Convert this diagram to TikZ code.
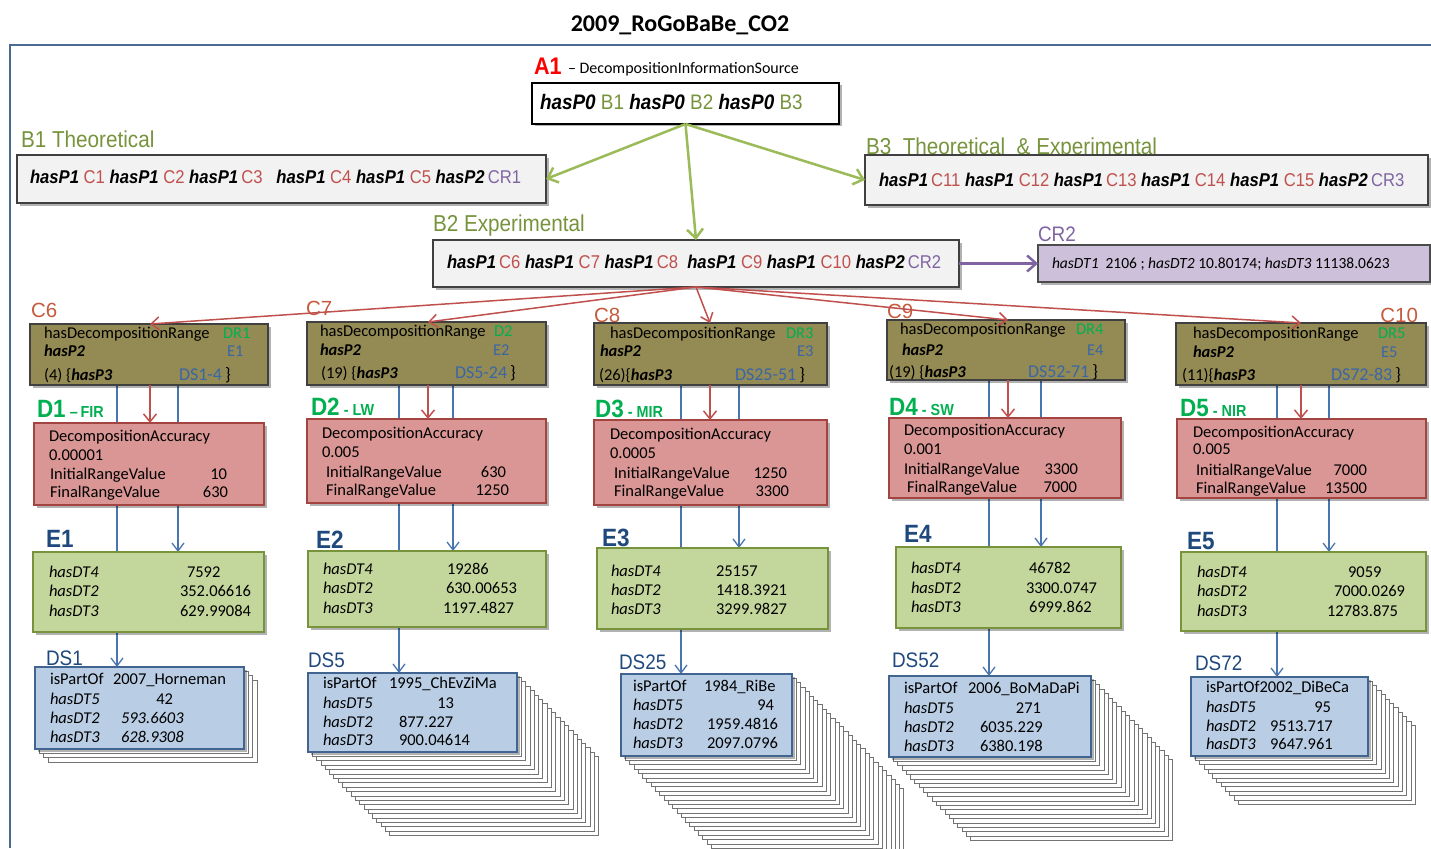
\documentclass[tikz,border=0pt]{standalone}
\usepackage{fontspec}
\setmainfont{Carlito}
\newfontfamily\nar[FakeStretch=0.9]{Liberation Sans}
\newfontfamily\arl{Liberation Sans}
\usetikzlibrary{arrows.meta,shadows,calc}
\pgfdeclarelayer{bg}
\pgfsetlayers{bg,main}

\definecolor{olv}{HTML}{77933C}
\definecolor{cred}{HTML}{C0504D}
\definecolor{clab}{HTML}{C65A3C}
\definecolor{cpur}{HTML}{8064A2}
\definecolor{garrow}{HTML}{9BBB59}
\definecolor{framec}{HTML}{4A6A94}
\definecolor{dgreen}{HTML}{00B050}
\definecolor{eblue}{HTML}{3A66A6}
\definecolor{lblue}{HTML}{1F497D}
\definecolor{bline}{HTML}{4A76B0}
\definecolor{cfill}{HTML}{948A54}
\definecolor{dfill}{HTML}{D99694}
\definecolor{efill}{HTML}{C3D69B}
\definecolor{sfill}{HTML}{B9CDE5}
\definecolor{crfill}{HTML}{CCC0DA}

\newcommand\fs[1]{\fontsize{#1}{#1}\selectfont}
\newcommand\hp[1]{\textbf{\textit{#1}}}
\newcommand\cc[1]{\textcolor{cred}{#1}}
\newcommand\cp[1]{\textcolor{cpur}{#1}}
\newcommand\cb[1]{\textcolor{olv}{#1}}
% text placed on its baseline, left or right aligned
\newcommand\T[5][body]{\node[#1] (#2) at (#3,#4) {#5};}
\newcommand\R[5][bodyr]{\node[#1] (#2) at (#3,#4) {#5};}
% a pile of sheets behind a data-set box
\newcommand\stack[5]{\foreach \i in {#5,...,1}{\draw[stk] ({#1+4.3*\i},{#2+4.4*\i}) rectangle ++(#3,#4);}}

\tikzset{
  tx/.style={inner sep=0pt, outer sep=0pt, anchor=base west},
  txr/.style={inner sep=0pt, outer sep=0pt, anchor=base east},
  body/.style={tx, font=\fs{16.5}},
  bodyr/.style={txr, font=\fs{16.5}},
  shd/.style={drop shadow={shadow xshift=2.5pt, shadow yshift=-2.5pt, opacity=0.3, fill=black}},
  box/.style={rectangle, inner sep=0pt, outer sep=0pt, anchor=north west, line width=1.3pt, shd},
  whitebox/.style={box, fill=white, draw=black},
  graybox/.style={box, fill=black!5, draw=black!75},
  crbox/.style={box, fill=crfill, draw=black!70},
  cbox/.style={box, fill=cfill, draw=black!75},
  dbox/.style={box, fill=dfill, draw=cred!85!black},
  ebox/.style={box, fill=efill, draw=olv},
  sbox/.style={box, fill=sfill, draw=lblue!85},
  stk/.style={fill=white, draw=black!55, line width=0.8pt},
  frame/.style={draw=framec, line width=2pt},
  garr/.style={draw=garrow, line width=2.5pt, -{Straight Barb[length=9pt,width=16pt]}},
  parr/.style={draw=cpur, line width=2.5pt, -{Straight Barb[length=9pt,width=16pt]}},
  rarr/.style={draw=cred, line width=1.5pt, -{Straight Barb[length=8pt,width=13pt]}},
  bln/.style={draw=bline, line width=1.3pt},
  barr/.style={bln, -{Straight Barb[length=8pt,width=12pt]}},
  blab/.style={tx, font=\nar\fs{23}, text=olv},
  clabel/.style={tx, font=\arl\fs{20.5}, text=clab},
  dlabel/.style={tx, font=\nar\bfseries\fs{25}, text=dgreen},
  elabel/.style={tx, font=\nar\bfseries\fs{25}, text=lblue},
  slabel/.style={tx, font=\nar\fs{21}, text=lblue},
  btext/.style={tx, font=\nar\fs{18.5}},
}

\begin{document}
\begin{tikzpicture}[x=1pt, y=-1pt]
\clip (0,0) rectangle (1431,848);
\begin{pgfonlayer}{bg}
\fill[white] (0,0) rectangle (1431,848);
\end{pgfonlayer}

% title and frame
\node[tx, anchor=base, font=\bfseries\fs{24}] (title) at (680,32) {2009\_RoGoBaBe\_CO2};
\draw[frame] (10,848) -- (10,45) -- (1431,45);

% top level source
\node[tx, font=\nar\bfseries\fs{24}, text=red] (a1lab) at (534,75) {A1};
\T[body, font=\fs{16}]{a1src}{568}{74}{– DecompositionInformationSource}
\node[whitebox, minimum width=307, minimum height=41] (a1) at (532,83) {};
\node[tx, font=\nar\fs{21}] (a1txt) at (540,110) {\hp{hasP0} \cb{B1} \hp{hasP0} \cb{B2} \hp{hasP0} \cb{B3}};

% B level
\node[blab] (b1lab) at (21,147) {B1 Theoretical};
\node[graybox, minimum width=529, minimum height=48] (b1) at (17,155) {};
\node[btext] (b1txt) at (30,183) {\hp{hasP1} \cc{C1} \hp{hasP1} \cc{C2} \hp{hasP1}\,\cc{C3}\ \ \ \hp{hasP1} \cc{C4} \hp{hasP1} \cc{C5} \hp{hasP2}\,\cp{CR1}};

\node[blab] (b3lab) at (866,154) {B3\ \ Theoretical\ \ \& Experimental};
\node[graybox, minimum width=563, minimum height=50] (b3) at (865,155) {};
\node[btext] (b3txt) at (879,186) {\hp{hasP1}\,\cc{C11} \hp{hasP1} \cc{C12} \hp{hasP1}\,\cc{C13} \hp{hasP1} \cc{C14} \hp{hasP1} \cc{C15} \hp{hasP2}\,\cp{CR3}};

\node[blab] (b2lab) at (433,231) {B2 Experimental};
\node[graybox, minimum width=526, minimum height=47] (b2) at (433,240) {};
\node[btext] (b2txt) at (447,268) {\hp{hasP1}\,\cc{C6} \hp{hasP1} \cc{C7} \hp{hasP1}\,\cc{C8}\ \ \hp{hasP1} \cc{C9} \hp{hasP1} \cc{C10} \hp{hasP2}\,\cp{CR2}};

\node[tx, font=\nar\fs{21}, text=cpur] (cr2lab) at (1038,241) {CR2};
\node[crbox, minimum width=392, minimum height=37] (cr2) at (1038,245) {};
\T[body, font=\fs{15.5}]{cr2txt}{1052}{268}{\textit{hasDT1}\ \ 2106 ; \textit{hasDT2} 10.80174; \textit{hasDT3} 11138.0623}

\draw[garr] (a1.south) -- (b1.east);
\draw[garr] (a1.south) -- (b3.west);
\draw[garr] (a1.south) -- (b2.north);
\draw[parr] (b2.east) -- (cr2.west);

% columns of the five decomposition ranges
\coordinate (r6) at (150,0);  \coordinate (l6) at (117,0);  \coordinate (e6) at (178,0);
\coordinate (r7) at (428,0);  \coordinate (l7) at (399,0);  \coordinate (e7) at (453,0);
\coordinate (r8) at (710,0);  \coordinate (l8) at (681,0);  \coordinate (e8) at (739,0);
\coordinate (r9) at (1008,0); \coordinate (l9) at (989,0);  \coordinate (e9) at (1041,0);
\coordinate (r10) at (1301,0);\coordinate (l10) at (1277,0);\coordinate (e10) at (1329,0);

% C boxes
\node[clabel] (c6lab) at (31,317) {C6};
\node[cbox, minimum width=238, minimum height=61] (c6) at (30,324) {};
\T{c6a}{44}{338}{hasDecompositionRange} \T[body,text=dgreen]{c6b}{223}{338}{DR1}
\T{c6c}{44}{356}{\hp{hasP2}} \T[body,text=eblue]{c6d}{227}{356}{E1}
\T{c6e}{44}{380}{(4) \{\hp{hasP3}} \T[body,text=eblue,font=\fs{18}]{c6f}{179}{380}{DS1-4\,\textcolor{black}{\}}}

\node[clabel] (c7lab) at (306,315) {C7};
\node[cbox, minimum width=239, minimum height=63] (c7) at (307,322) {};
\T{c7a}{320}{336}{hasDecompositionRange} \T[body,text=dgreen]{c7b}{494}{336}{D2}
\T{c7c}{320}{355}{\hp{hasP2}} \T[body,text=eblue]{c7d}{493}{355}{E2}
\T{c7e}{321}{378}{(19) \{\hp{hasP3}} \T[body,text=eblue,font=\fs{18}]{c7f}{455}{378}{DS5-24\,\textcolor{black}{\}}}

\node[clabel] (c8lab) at (594,322) {C8};
\node[cbox, minimum width=233, minimum height=62] (c8) at (594,323) {};
\T{c8a}{610}{338}{hasDecompositionRange} \T[body,text=dgreen]{c8b}{786}{338}{DR3}
\T{c8c}{600}{356}{\hp{hasP2}} \T[body,text=eblue]{c8d}{797}{356}{E3}
\T{c8e}{599}{380}{(26)\{\hp{hasP3}} \T[body,text=eblue,font=\fs{18}]{c8f}{735}{380}{DS25-51\,\textcolor{black}{\}}}

\node[clabel] (c9lab) at (887,318) {C9};
\node[cbox, minimum width=238, minimum height=60] (c9) at (887,320) {};
\T{c9a}{900}{334}{hasDecompositionRange} \T[body,text=dgreen]{c9b}{1076}{334}{DR4}
\T{c9c}{902}{355}{\hp{hasP2}} \T[body,text=eblue]{c9d}{1087}{355}{E4}
\T{c9e}{889}{377}{(19) \{\hp{hasP3}} \T[body,text=eblue,font=\fs{18}]{c9f}{1028}{377}{DS52-71\,\textcolor{black}{\}}}

\node[clabel, anchor=base east] (c10lab) at (1418,322) {C10};
\node[cbox, minimum width=250, minimum height=62] (c10) at (1176,323) {};
\T{c10a}{1193}{338}{hasDecompositionRange} \T[body,text=dgreen]{c10b}{1378}{338}{DR5}
\T{c10c}{1193}{357}{\hp{hasP2}} \T[body,text=eblue]{c10d}{1381}{357}{E5}
\T{c10e}{1182}{380}{(11)\{\hp{hasP3}} \T[body,text=eblue,font=\fs{18}]{c10f}{1331}{380}{DS72-83\,\textcolor{black}{\}}}

\foreach \c in {6,...,10}{\draw[rarr] (b2.south) -- (c\c.north -| r\c);}

% D boxes
\node[dlabel] (d1lab) at (37,417) {D1\,{\fs{16}–\,FIR}};
\node[dbox, minimum width=230, minimum height=82] (d1) at (34,423) {};
\T{d1a}{49}{441}{DecompositionAccuracy} \T{d1b}{49}{460}{0.00001}
\T{d1c}{50}{479}{InitialRangeValue} \R{d1d}{227}{479}{10}
\T{d1e}{50}{497}{FinalRangeValue} \R{d1f}{228}{497}{630}

\node[dlabel] (d2lab) at (311,415) {D2\,{\fs{16}- LW}};
\node[dbox, minimum width=239, minimum height=84] (d2) at (307,419) {};
\T{d2a}{322}{438}{DecompositionAccuracy} \T{d2b}{322}{457}{0.005}
\T{d2c}{326}{477}{InitialRangeValue} \R{d2d}{506}{477}{630}
\T{d2e}{326}{495}{FinalRangeValue} \R{d2f}{509}{495}{1250}

\node[dlabel] (d3lab) at (595,417) {D3\,{\fs{16}- MIR}};
\node[dbox, minimum width=233, minimum height=85] (d3) at (594,420) {};
\T{d3a}{610}{439}{DecompositionAccuracy} \T{d3b}{610}{458}{0.0005}
\T{d3c}{614}{478}{InitialRangeValue} \R{d3d}{787}{478}{1250}
\T{d3e}{614}{496}{FinalRangeValue} \R{d3f}{789}{496}{3300}

\node[dlabel] (d4lab) at (889,415) {D4\,{\fs{16}- SW}};
\node[dbox, minimum width=232, minimum height=80] (d4) at (889,418) {};
\T{d4a}{904}{435}{DecompositionAccuracy} \T{d4b}{904}{454}{0.001}
\T{d4c}{904}{474}{InitialRangeValue} \R{d4d}{1078}{474}{3300}
\T{d4e}{907}{492}{FinalRangeValue} \R{d4f}{1077}{492}{7000}

\node[dlabel] (d5lab) at (1180,416) {D5\,{\fs{16}- NIR}};
\node[dbox, minimum width=249, minimum height=79] (d5) at (1177,419) {};
\T{d5a}{1193}{437}{DecompositionAccuracy} \T{d5b}{1193}{454}{0.005}
\T{d5c}{1196}{475}{InitialRangeValue} \R{d5d}{1367}{475}{7000}
\T{d5e}{1196}{493}{FinalRangeValue} \R{d5f}{1367}{493}{13500}

\foreach \c/\d in {6/1,7/2,8/3,9/4,10/5}{\draw[rarr] (c\c.south -| r\c) -- (d\d.north -| r\c);}

% E boxes
\node[elabel] (e1lab) at (46,547) {E1};
\node[ebox, minimum width=231, minimum height=80] (e1) at (33,552) {};
\T{e1a}{49}{577}{\textit{hasDT4}} \T{e1b}{187}{577}{7592}
\T{e1c}{49}{596}{\textit{hasDT2}} \T{e1d}{180}{596}{352.06616}
\T{e1e}{49}{616}{\textit{hasDT3}} \T{e1f}{180}{616}{629.99084}

\node[elabel] (e2lab) at (316,548) {E2};
\node[ebox, minimum width=238, minimum height=76] (e2) at (308,551) {};
\T{e2a}{323}{574}{\textit{hasDT4}} \T{e2b}{447}{574}{19286}
\T{e2c}{323}{593}{\textit{hasDT2}} \T{e2d}{446}{593}{630.00653}
\T{e2e}{323}{613}{\textit{hasDT3}} \T{e2f}{443}{613}{1197.4827}

\node[elabel] (e3lab) at (602,546) {E3};
\node[ebox, minimum width=231, minimum height=81] (e3) at (597,548) {};
\T{e3a}{611}{576}{\textit{hasDT4}} \T{e3b}{716}{576}{25157}
\T{e3c}{611}{595}{\textit{hasDT2}} \T{e3d}{716}{595}{1418.3921}
\T{e3e}{611}{614}{\textit{hasDT3}} \T{e3f}{716}{614}{3299.9827}

\node[elabel] (e4lab) at (904,542) {E4};
\node[ebox, minimum width=225, minimum height=81] (e4) at (896,547) {};
\T{e4a}{911}{573}{\textit{hasDT4}} \T{e4b}{1029}{573}{46782}
\T{e4c}{911}{593}{\textit{hasDT2}} \T{e4d}{1026}{593}{3300.0747}
\T{e4e}{911}{612}{\textit{hasDT3}} \T{e4f}{1029}{612}{6999.862}

\node[elabel] (e5lab) at (1187,549) {E5};
\node[ebox, minimum width=245, minimum height=79] (e5) at (1181,552) {};
\T{e5a}{1197}{577}{\textit{hasDT4}} \T{e5b}{1348}{577}{9059}
\T{e5c}{1197}{596}{\textit{hasDT2}} \T{e5d}{1334}{596}{7000.0269}
\T{e5e}{1197}{616}{\textit{hasDT3}} \T{e5f}{1327}{616}{12783.875}

% data-set piles
\stack{35}{667}{209}{82}{3}
\stack{308}{673}{209}{79}{19}
\stack{621}{674}{171}{82}{26}
\stack{889}{676}{202}{81}{19}
\stack{1191}{677}{177}{79}{11}

\node[slabel] (s1lab) at (46,665) {DS1};
\node[sbox, minimum width=209, minimum height=82] (s1) at (35,667) {};
\T{s1a}{50}{684}{isPartOf} \T{s1b}{113}{684}{2007\_Horneman}
\T{s1c}{50}{704}{\textit{hasDT5}} \R{s1d}{173}{704}{42}
\T{s1e}{50}{723}{\textit{hasDT2}} \T{s1f}{121}{723}{\textit{593.6603}}
\T{s1g}{50}{742}{\textit{hasDT3}} \T{s1h}{121}{742}{\textit{628.9308}}

\node[slabel] (s5lab) at (308,667) {DS5};
\node[sbox, minimum width=209, minimum height=79] (s5) at (308,673) {};
\T{s5a}{323}{688}{isPartOf} \T{s5b}{389}{688}{1995\_ChEvZiMa}
\T{s5c}{323}{708}{\textit{hasDT5}} \R{s5d}{454}{708}{13}
\T{s5e}{323}{727}{\textit{hasDT2}} \T{s5f}{399}{727}{877.227}
\T{s5g}{323}{745}{\textit{hasDT3}} \T{s5h}{399}{745}{900.04614}

\node[slabel] (s25lab) at (619,669) {DS25};
\node[sbox, minimum width=171, minimum height=82] (s25) at (621,674) {};
\T{s25a}{633}{691}{isPartOf} \T{s25b}{704}{691}{1984\_RiBe}
\T{s25c}{633}{710}{\textit{hasDT5}} \R{s25d}{774}{710}{94}
\T{s25e}{633}{729}{\textit{hasDT2}} \T{s25f}{707}{729}{1959.4816}
\T{s25g}{633}{748}{\textit{hasDT3}} \T{s25h}{707}{748}{2097.0796}

\node[slabel] (s52lab) at (892,667) {DS52};
\node[sbox, minimum width=202, minimum height=81] (s52) at (889,676) {};
\T{s52a}{904}{693}{isPartOf} \T{s52b}{968}{693}{2006\_BoMaDaPi}
\T{s52c}{904}{713}{\textit{hasDT5}} \R{s52d}{1041}{713}{271}
\T{s52e}{904}{732}{\textit{hasDT2}} \T{s52f}{980}{732}{6035.229}
\T{s52g}{904}{751}{\textit{hasDT3}} \T{s52h}{980}{751}{6380.198}

\node[slabel] (s72lab) at (1195,670) {DS72};
\node[sbox, minimum width=177, minimum height=79] (s72) at (1191,677) {};
\T{s72a}{1206}{692}{isPartOf2002\_DiBeCa}
\T{s72c}{1206}{712}{\textit{hasDT5}} \R{s72d}{1331}{712}{95}
\T{s72e}{1206}{731}{\textit{hasDT2}} \T{s72f}{1270}{731}{9513.717}
\T{s72g}{1206}{749}{\textit{hasDT3}} \T{s72h}{1270}{749}{9647.961}

% links of each range to its result and to its data sets, behind the boxes
\begin{pgfonlayer}{bg}
\foreach \c/\e/\s in {6/1/1,7/2/5,8/3/25,9/4/52,10/5/72}{
  \draw[barr] (c\c.south -| e\c) -- (e\e.north -| e\c);
  \draw[barr] (c\c.south -| l\c) -- (s\s.north -| l\c);
}
\end{pgfonlayer}
\end{tikzpicture}
\end{document}
